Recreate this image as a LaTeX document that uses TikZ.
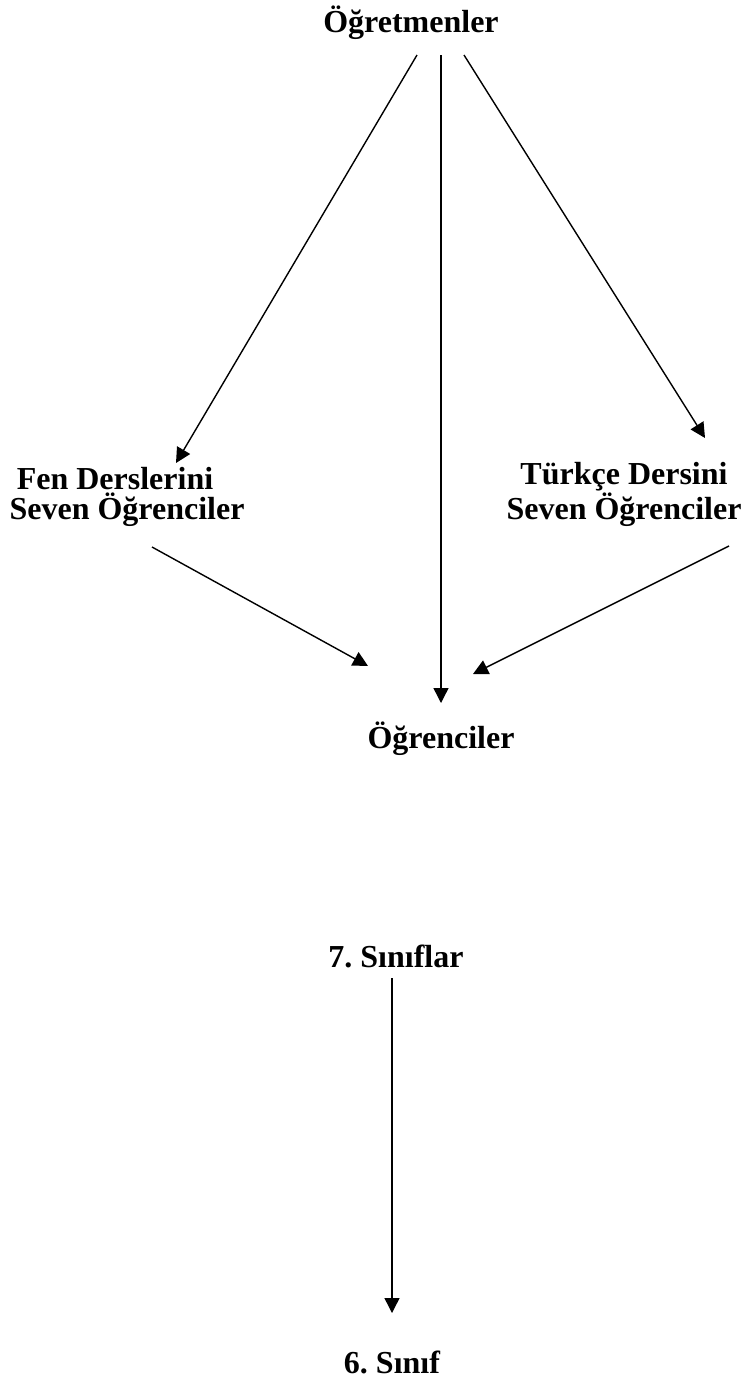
\documentclass[tikz,border=0pt]{standalone}
\usepackage{fontspec}
\setmainfont{Liberation Serif}
\usetikzlibrary{arrows.meta}

\tikzset{
  lbl/.style={font=\fontsize{32}{30}\selectfont\bfseries\frenchspacing, align=center, anchor=base, inner sep=0pt},
  arr/.style={line width=1.4pt, -{Triangle[length=15pt,width=15pt]}}
}

\begin{document}
\begin{tikzpicture}[x=1pt,y=-1pt]
  \useasboundingbox (0,0) rectangle (747,1382);
  % labels
  \node[lbl] (ogretmen) at (411,32) {Öğretmenler};
  \node[lbl] (fen) at (127,519) {Fen Derslerini\hspace*{24pt}\\Seven Öğrenciler};
  \node[lbl] (turkce) at (624,519) {Türkçe Dersini\\Seven Öğrenciler};
  \node[lbl] (ogrenci) at (441,748) {Öğrenciler};
  \node[lbl] (yedi) at (396,967) {7. Sınıflar};
  \node[lbl] (alti) at (392,1373) {6. Sınıf};
  % arrow ends
  \coordinate (o1) at (417,55);
  \coordinate (o2) at (441,55);
  \coordinate (o3) at (464,55);
  \coordinate (f1) at (176,463);
  \coordinate (t1) at (705,438);
  \coordinate (f2) at (152,547);
  \coordinate (t2) at (729,546);
  \coordinate (g1) at (368,666);
  \coordinate (g2) at (441,703);
  \coordinate (g3) at (473,674);
  \coordinate (y1) at (392,978);
  \coordinate (a1) at (392,1313);
  \path[arr]
    (o1) edge (f1)
    (o2) edge (g2)
    (o3) edge (t1)
    (f2) edge (g1)
    (t2) edge (g3)
    (y1) edge (a1);
\end{tikzpicture}
\end{document}
